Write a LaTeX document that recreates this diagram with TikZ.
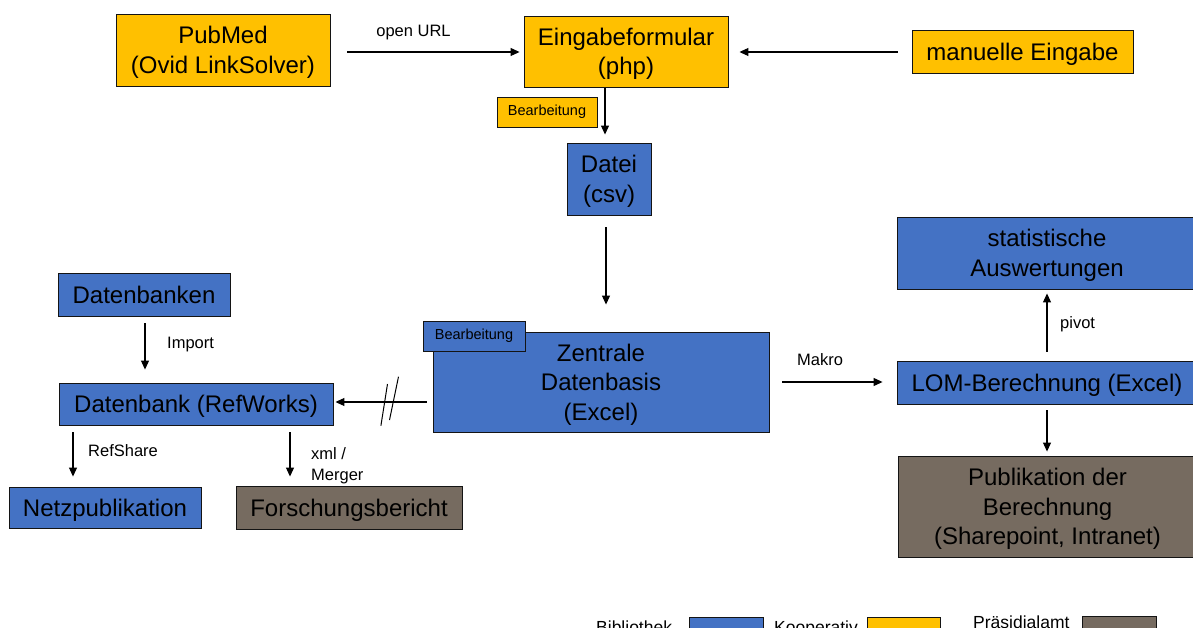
\documentclass[tikz,border=0pt]{standalone}
\usepackage{fontspec}
\setmainfont{Liberation Sans}
\usetikzlibrary{arrows.meta,calc}
\definecolor{bib}{RGB}{68,114,196}
\definecolor{koop}{RGB}{255,192,0}
\definecolor{praes}{RGB}{118,107,96}
\definecolor{edge}{RGB}{20,20,20}
\begin{document}
\begin{tikzpicture}[x=1pt,y=-1pt,
 box/.style={draw=edge,line width=0.9pt,inner sep=0pt,align=center,text depth=-2pt,font=\fontsize{24}{29.5}\selectfont},
 bluebox/.style={box,fill=bib},
 yelbox/.style={box,fill=koop},
 graybox/.style={box,fill=praes},
 tag/.style={draw=edge,line width=0.9pt,inner sep=0pt,font=\fontsize{14.5}{17}\selectfont,minimum height=30},
 lbl/.style={inner sep=0pt,font=\fontsize{16.5}{21}\selectfont,align=left},
 arr/.style={line width=1.1pt,-{Triangle[length=9pt,width=8pt]}},
 legtext/.style={inner sep=0pt,font=\fontsize{17.5}{21}\selectfont,anchor=base west},
 legbox/.style={draw=edge,line width=0.9pt},
]
\useasboundingbox (0,0) rectangle (1193,628);
\clip (0,0) rectangle (1193,628);

% top row
\node[yelbox,minimum width=214,minimum height=72] (pubmed) at (223,50) {PubMed\\(Ovid LinkSolver)};
\node[yelbox,minimum width=204,minimum height=71] (eingabe) at (626,51.5) {Eingabeformular\\(php)};
\node[yelbox,minimum width=221,minimum height=43] (manuell) at (1022.5,51.5) {manuelle Eingabe};
\node[tag,fill=koop,minimum width=100] (bearb1) at (547,112) {Bearbeitung};
\node[bluebox,minimum width=84,minimum height=72] (datei) at (609,179) {Datei\\(csv)};

% centre
\node[bluebox,minimum width=336,minimum height=100] (zentrale) at (601,382) {Zentrale\\Datenbasis\\(Excel)};
\node[tag,fill=bib,minimum width=102] (bearb2) at (474,336) {Bearbeitung};

% left
\node[bluebox,minimum width=172,minimum height=43] (datenbanken) at (144,294.5) {Datenbanken};
\node[bluebox,minimum width=274,minimum height=42] (refworks) at (196,404) {Datenbank (RefWorks)};
\node[bluebox,minimum width=192,minimum height=41] (netz) at (105,507.5) {Netzpublikation};
\node[graybox,minimum width=226,minimum height=43] (forsch) at (349,507.5) {Forschungsbericht};

% right
\node[bluebox,minimum width=300,minimum height=72] (stat) at (1047,253) {statistische\\Auswertungen};
\node[bluebox,minimum width=300,minimum height=43] (lom) at (1047,382.5) {LOM-Berechnung (Excel)};
\node[graybox,minimum width=299,minimum height=101] (publ) at (1047.5,506.5) {Publikation der\\Berechnung\\(Sharepoint, Intranet)};

% connectors
\draw[arr] ($(pubmed.east)+(17,2)$) -- ($(pubmed.east -| eingabe.west)+(-4,2)$);
\node[lbl,anchor=base] (lopen) at (413.5,37) {open URL};
\draw[arr] ($(manuell.west)+(-14,0.5)$) -- ($(manuell.west -| eingabe.east)+(11,0.5)$);
\draw[arr] ($(eingabe.south -| datei.north)+(-4,1)$) -- ($(datei.north)+(-4,-8)$);
\draw[arr] ($(datei.south)+(-3,12)$) -- ($(datei.south |- zentrale.north)+(-3,-27)$);

\draw[arr] ($(refworks.east -| zentrale.west)+(-6,-2)$) -- ($(refworks.east)+(2,-2)$)
  coordinate[pos=0.41] (brk);
\draw[line width=1pt] ($(brk)+(-8.3,23.7)$) -- ($(brk)+(-1.7,-18)$);
\draw[line width=1pt] ($(brk)+(0.3,18)$) -- ($(brk)+(9.3,-25.3)$);

\draw[arr] ($(datenbanken.south)+(1,7)$) -- ($(datenbanken.south |- refworks.north)+(1,-13)$);
\node[lbl,anchor=base west] (limport) at (167,348) {Import};
\draw[arr] ($(refworks.south -| netz.north)+(-32,7)$) -- ($(netz.north)+(-32,-10)$);
\node[lbl,anchor=base west] (lrefshare) at (88,456) {RefShare};
\draw[arr] ($(refworks.south -| forsch.north)+(-59,7)$) -- ($(forsch.north)+(-59,-9)$);
\node[lbl,anchor=north west] (lxml) at (311,447) {xml /\\Merger};

\draw[arr] ($(zentrale.east)+(13,0)$) -- ($(zentrale.east -| lom.west)+(-14,0)$);
\node[lbl,anchor=base west] (lmakro) at (797,365) {Makro};
\draw[arr] ($(lom.north)+(0,-9)$) -- ($(stat.south)+(0,4)$);
\node[lbl,anchor=base west] (lpivot) at (1060,328) {pivot};
\draw[arr] ($(lom.south)+(0,6)$) -- ($(lom.south |- publ.north)+(0,-4)$);

% legend
\node[legtext] (lbib) at (596,633) {Bibliothek};
\draw[legbox,fill=bib] (689,617) rectangle (763,642);
\node[legtext] (lkoop) at (774,633) {Kooperativ};
\draw[legbox,fill=koop] (867,617) rectangle (940,642);
\node[legtext] (lpraes) at (973,628.5) {Präsidialamt};
\draw[legbox,fill=praes] (1082,616) rectangle (1156,642);
\end{tikzpicture}
\end{document}
